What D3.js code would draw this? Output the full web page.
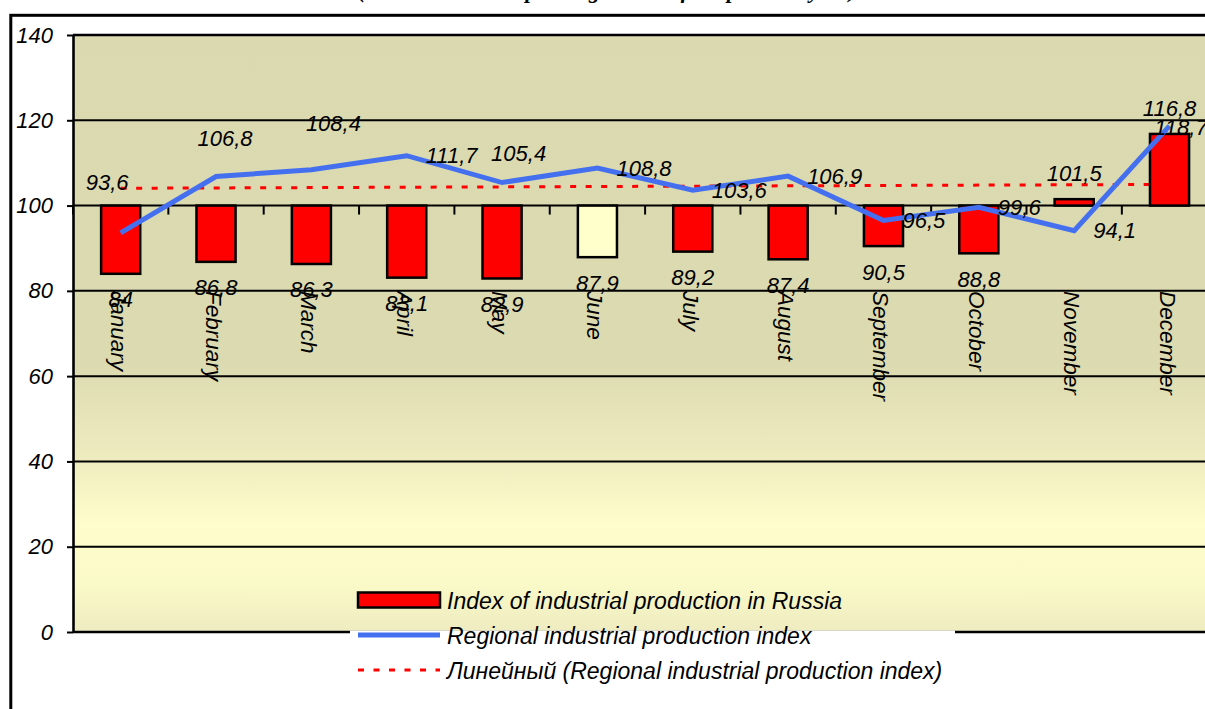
<!DOCTYPE html>
<html><head><meta charset="utf-8">
<script src="https://cdn.jsdelivr.net/npm/d3@7"></script>
<style>
body{margin:0;background:#fff;overflow:hidden;}
svg{display:block;}
text{font-family:"Liberation Sans",Arial,sans-serif;font-style:italic;fill:#000;}
</style>
</head><body>
<svg id="chart" width="1205" height="709"></svg>
<script>
// ---------- data ----------
const months = ["January","February","March","April","May","June","July","August","September","October","November","December"];
const russiaIndex   = [84, 86.8, 86.3, 83.1, 82.9, 87.9, 89.2, 87.4, 90.5, 88.8, 101.5, 116.8];
const regionalIndex = [93.6, 106.8, 108.4, 111.7, 105.4, 108.8, 103.6, 106.9, 96.5, 99.6, 94.1, 118.7];
const yTickValues = [0, 20, 40, 60, 80, 100, 120, 140];
const seriesNames = [
  "Index of industrial production in Russia",
  "Regional industrial production index",
  "Линейный (Regional industrial production index)"
];
const titleText = "(in % to the corresponding month of the previous year)";

// ---------- layout / style constants ----------
const W = 1205, H = 709;
const plotLeft = 73, plotTop = 35, plotBottom = 632, bandStep = 95.35;
const baseValue = 100;            // category axis crosses here
const highlightMonth = "June";    // bar drawn pale
const FONT = 22;
// manual nudges for some line labels (dx from point to text start, dy to baseline)
const lineLabelNudge = {January:[-35,-43], February:[-18.5,-30.5], March:[-5.5,-38.7], May:[-11,-21.5], December:[-15.3,8.8]};
const defaultNudge = [19, 7.5];

const svg = d3.select("#chart");
const x = d3.scaleBand().domain(months).range([plotLeft, plotLeft + bandStep * months.length]).padding(0);
const y = d3.scaleLinear().domain([0, 140]).range([plotBottom, plotTop]);
const cx = m => x(m) + x.bandwidth() / 2;
const fmt = v => String(v).replace(".", ",");
const plotRight = x.range()[1];

// gradient
const defs = svg.append("defs");
const g1 = defs.append("linearGradient").attr("id","bg").attr("x1",0).attr("y1",0).attr("x2",0).attr("y2",1);
[[0,"#DBD9B0"],[0.55,"#DCDAB0"],[0.70,"#EDEBBE"],[0.82,"#FEFDCB"],[0.92,"#FAF9C8"],[1,"#EEECC0"]]
  .forEach(([o,c]) => g1.append("stop").attr("offset", o).attr("stop-color", c));

// outer chart border
svg.append("rect").attr("x", 10.8).attr("y", 15.3).attr("width", W + 50).attr("height", H + 50)
  .attr("fill", "#fff").attr("stroke", "#000").attr("stroke-width", 3);

// title (mostly cut off at top)
svg.append("text").attr("x", 607).attr("y", -2).attr("text-anchor", "middle")
  .style("font-family", "'Liberation Serif','Times New Roman',serif").style("font-weight", "bold")
  .style("font-size", "22px").text(titleText);

// plot background
svg.append("rect").attr("x", plotLeft).attr("y", plotTop).attr("width", plotRight - plotLeft)
  .attr("height", plotBottom - plotTop).attr("fill", "url(#bg)");

// gridlines
svg.append("g").selectAll("line").data(yTickValues).join("line")
  .attr("x1", plotLeft).attr("x2", plotRight)
  .attr("y1", d => y(d)).attr("y2", d => y(d))
  .attr("stroke", "#000").attr("stroke-width", d => (d === 0 || d === 140) ? 2.6 : 2);

// y axis
const yAxis = svg.append("g").attr("transform", `translate(${plotLeft},0)`)
  .call(d3.axisLeft(y).tickValues(yTickValues).tickSize(6).tickSizeOuter(0).tickPadding(14).tickFormat(d => d));
yAxis.select(".domain").attr("stroke", "#000").attr("stroke-width", 2.6);
yAxis.selectAll(".tick line").attr("stroke", "#000").attr("stroke-width", 2);
yAxis.selectAll(".tick text").style("font-size", FONT + "px").style("font-family", "'Liberation Sans',Arial,sans-serif").style("font-style","italic").attr("fill", "#000");

// category ticks on the 100 line (at band boundaries)
const boundaries = months.map(m => x(m)).concat([plotRight]);
svg.append("g").selectAll("line").data(boundaries).join("line")
  .attr("x1", d => d).attr("x2", d => d)
  .attr("y1", y(baseValue)).attr("y2", y(baseValue) + 9)
  .attr("stroke", "#000").attr("stroke-width", 2);

// month labels (rotated)
svg.append("g").selectAll("text").data(months).join("text")
  .attr("transform", m => `translate(${cx(m) - 10},291) rotate(90)`)
  .attr("text-anchor", "start").style("font-size", "22.5px").text(m => m);

// trend line (linear regression of regional index)
const n = regionalIndex.length;
const xs = d3.range(1, n + 1);
const mx = d3.mean(xs), my = d3.mean(regionalIndex);
const slope = d3.sum(xs.map((t, i) => (t - mx) * (regionalIndex[i] - my))) / d3.sum(xs.map(t => (t - mx) ** 2));
const intercept = my - slope * mx;
const trend = [0, n - 1].map(i => ({m: months[i], v: intercept + slope * (i + 1)}));
svg.append("path").datum(trend)
  .attr("d", d3.line().x(d => cx(d.m)).y(d => y(d.v)))
  .attr("fill", "none").attr("stroke", "#FF0000").attr("stroke-width", 3).attr("stroke-dasharray", "6,9.5");

// bars
const barW = x.bandwidth() * 0.41;
svg.append("g").selectAll("rect").data(months).join("rect")
  .attr("x", m => cx(m) - barW / 2)
  .attr("y", (m, i) => Math.min(y(baseValue), y(russiaIndex[i])))
  .attr("width", barW)
  .attr("height", (m, i) => Math.abs(y(russiaIndex[i]) - y(baseValue)))
  .attr("fill", m => m === highlightMonth ? "#FFFFCC" : "#FF0000")
  .attr("stroke", "#000").attr("stroke-width", 2.5);

// regional line
svg.append("path").datum(regionalIndex)
  .attr("d", d3.line().x((v, i) => cx(months[i])).y(v => y(v)))
  .attr("fill", "none").attr("stroke", "#4470F0").attr("stroke-width", 5).attr("stroke-linejoin", "miter");

// bar labels
svg.append("g").selectAll("text").data(months).join("text")
  .attr("x", m => cx(m))
  .attr("y", (m, i) => russiaIndex[i] >= baseValue ? y(russiaIndex[i]) - 18 : y(russiaIndex[i]) + 33.5)
  .attr("text-anchor", "middle").style("font-size", FONT + "px")
  .text((m, i) => fmt(russiaIndex[i]));

// line labels
svg.append("g").selectAll("text").data(months).join("text")
  .attr("x", (m, i) => cx(m) + (lineLabelNudge[m] || defaultNudge)[0])
  .attr("y", (m, i) => y(regionalIndex[i]) + (lineLabelNudge[m] || defaultNudge)[1])
  .attr("text-anchor", "start").style("font-size", FONT + "px")
  .text((m, i) => fmt(regionalIndex[i]));

// legend
const lg = svg.append("g");
lg.append("rect").attr("x", 350).attr("y", 630.5).attr("width", 605).attr("height", 80).attr("fill", "#fff");
const rows = [600, 635, 670];
lg.append("rect").attr("x", 358).attr("y", rows[0] - 7.5).attr("width", 82).attr("height", 15)
  .attr("fill", "#FF0000").attr("stroke", "#000").attr("stroke-width", 2.5);
lg.append("line").attr("x1", 358).attr("x2", 440).attr("y1", rows[1]).attr("y2", rows[1])
  .attr("stroke", "#4470F0").attr("stroke-width", 5);
lg.append("line").attr("x1", 358).attr("x2", 440).attr("y1", rows[2]).attr("y2", rows[2])
  .attr("stroke", "#FF0000").attr("stroke-width", 3).attr("stroke-dasharray", "6,9.5");
lg.selectAll("text.l").data(seriesNames).join("text").attr("class", "l")
  .attr("x", 447).attr("y", (d, i) => rows[i] + 8.5)
  .style("font-size", "23px").text(d => d);
</script>
</body></html>
